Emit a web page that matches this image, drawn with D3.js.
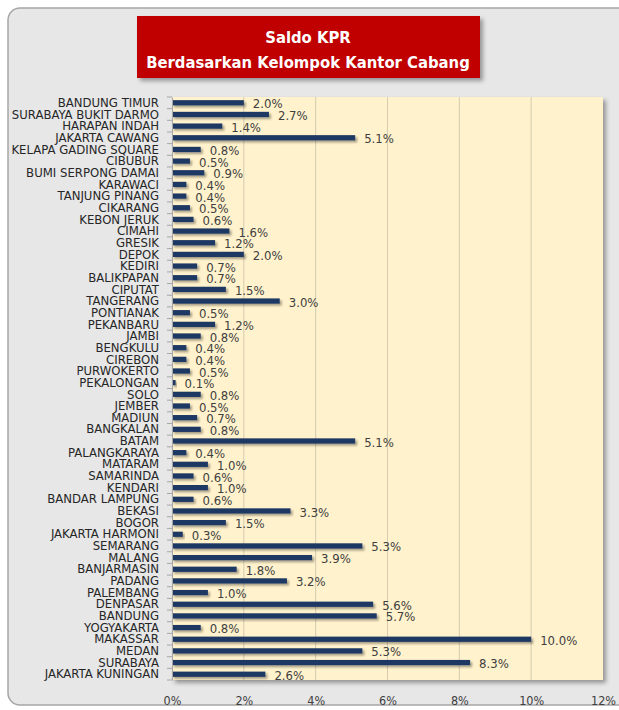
<!DOCTYPE html>
<html>
<head>
<meta charset="utf-8">
<script src="https://cdn.jsdelivr.net/npm/d3@7"></script>
<style>
  body { margin: 0; background: #fff; }
  text { font-family: "DejaVu Sans Condensed", "DejaVu Sans", sans-serif; }
</style>
</head>
<body>
<div id="chart"></div>
<script>
const categories = [
  "BANDUNG TIMUR", "SURABAYA BUKIT DARMO", "HARAPAN INDAH", "JAKARTA CAWANG",
  "KELAPA GADING SQUARE", "CIBUBUR", "BUMI SERPONG DAMAI", "KARAWACI",
  "TANJUNG PINANG", "CIKARANG", "KEBON JERUK", "CIMAHI", "GRESIK", "DEPOK",
  "KEDIRI", "BALIKPAPAN", "CIPUTAT", "TANGERANG", "PONTIANAK", "PEKANBARU",
  "JAMBI", "BENGKULU", "CIREBON", "PURWOKERTO", "PEKALONGAN", "SOLO", "JEMBER",
  "MADIUN", "BANGKALAN", "BATAM", "PALANGKARAYA", "MATARAM", "SAMARINDA",
  "KENDARI", "BANDAR LAMPUNG", "BEKASI", "BOGOR", "JAKARTA HARMONI", "SEMARANG",
  "MALANG", "BANJARMASIN", "PADANG", "PALEMBANG", "DENPASAR", "BANDUNG",
  "YOGYAKARTA", "MAKASSAR", "MEDAN", "SURABAYA", "JAKARTA KUNINGAN"
];
const values = [
  2.0, 2.7, 1.4, 5.1,
  0.8, 0.5, 0.9, 0.4,
  0.4, 0.5, 0.6, 1.6, 1.2, 2.0,
  0.7, 0.7, 1.5, 3.0, 0.5, 1.2,
  0.8, 0.4, 0.4, 0.5, 0.1, 0.8, 0.5,
  0.7, 0.8, 5.1, 0.4, 1.0, 0.6,
  1.0, 0.6, 3.3, 1.5, 0.3, 5.3,
  3.9, 1.8, 3.2, 1.0, 5.6, 5.7,
  0.8, 10.0, 5.3, 8.3, 2.6
];
const xTicks = [0, 2, 4, 6, 8, 10, 12];
const titleLines = ["Saldo KPR", "Berdasarkan Kelompok Kantor Cabang"];

const data = categories.map((c, i) => ({ name: c, value: values[i] }));

const W = 619, H = 710;
const margin = { top: 97, left: 172 };
const width = 603 - margin.left;
const height = 680 - margin.top;

const svg = d3.select("#chart").append("svg")
  .attr("width", W).attr("height", H);

const defs = svg.append("defs");
const shadow = defs.append("filter").attr("id", "shadow")
  .attr("x", "-10%").attr("y", "-50%").attr("width", "130%").attr("height", "250%");
shadow.append("feDropShadow").attr("dx", 2).attr("dy", 2)
  .attr("stdDeviation", 1).attr("flood-color", "#000").attr("flood-opacity", 0.35);
const boxShadow = defs.append("filter").attr("id", "boxShadow")
  .attr("x", "-5%").attr("y", "-5%").attr("width", "115%").attr("height", "120%");
boxShadow.append("feDropShadow").attr("dx", 3).attr("dy", 3)
  .attr("stdDeviation", 2).attr("flood-color", "#000").attr("flood-opacity", 0.35);

// outer frame
svg.append("rect")
  .attr("x", 8).attr("y", 8).attr("width", 625).attr("height", 697)
  .attr("rx", 12)
  .attr("fill", "#e7e7e7").attr("stroke", "#a6a6a6").attr("stroke-width", 1.5);

// title box
const tb = svg.append("g");
tb.append("rect")
  .attr("x", 137).attr("y", 16).attr("width", 343).attr("height", 62)
  .attr("fill", "#c00000").attr("filter", "url(#boxShadow)");
tb.selectAll("text").data(titleLines).enter().append("text")
  .attr("x", 308).attr("y", (d, i) => 43 + i * 25)
  .attr("text-anchor", "middle")
  .attr("fill", "#fff").attr("font-weight", "bold").attr("font-size", 16.5)
  .text(d => d);

const g = svg.append("g").attr("transform", `translate(${margin.left},${margin.top})`);

const x = d3.scaleLinear().domain([0, 12]).range([0, width]);
const y = d3.scaleBand().domain(categories).range([0, height]).paddingInner(0.55).paddingOuter(0.27);

// plot area
g.append("rect")
  .attr("width", width).attr("height", height)
  .attr("fill", "#fff2cc").attr("filter", "url(#boxShadow)");

// gridlines
g.selectAll(".grid").data(xTicks.slice(1, -1)).enter().append("line")
  .attr("x1", d => x(d)).attr("x2", d => x(d))
  .attr("y1", 0).attr("y2", height)
  .attr("stroke", "#d4cbb0").attr("stroke-width", 1);

// bars
g.selectAll(".bar").data(data).enter().append("rect")
  .attr("x", 0)
  .attr("y", d => y(d.name))
  .attr("width", d => x(d.value))
  .attr("height", y.bandwidth())
  .attr("fill", "#1f3864")
  .attr("filter", "url(#shadow)");

// value labels
g.selectAll(".val").data(data).enter().append("text")
  .attr("x", d => x(d.value) + 9)
  .attr("y", d => y(d.name) + y.bandwidth() / 2 + 1)
  .attr("dy", "0.35em")
  .attr("font-size", 13)
  .attr("fill", "#404040")
  .text(d => d.value.toFixed(1) + "%");

// category axis
const ya = g.append("g").call(d3.axisLeft(y).tickSize(0).tickPadding(13));
ya.select(".domain").attr("stroke", "#a6a6a6");
ya.selectAll("text").attr("font-size", 13).attr("fill", "#262626")
  .style("font-family", "'DejaVu Sans Condensed', 'DejaVu Sans', sans-serif");
// small ticks between categories
g.selectAll(".ctick").data(d3.range(categories.length + 1)).enter().append("line")
  .attr("x1", -5).attr("x2", 0)
  .attr("y1", i => i * height / categories.length)
  .attr("y2", i => i * height / categories.length)
  .attr("stroke", "#a6a6a6");

// value axis
const xa = g.append("g").attr("transform", `translate(0,${height})`)
  .call(d3.axisBottom(x).tickValues(xTicks).tickFormat(d => d + "%").tickSize(0).tickPadding(16));
xa.select(".domain").remove();
xa.selectAll("text").attr("font-size", 12.5).attr("fill", "#404040")
  .style("font-family", "'DejaVu Sans Condensed', 'DejaVu Sans', sans-serif");
</script>
</body>
</html>
